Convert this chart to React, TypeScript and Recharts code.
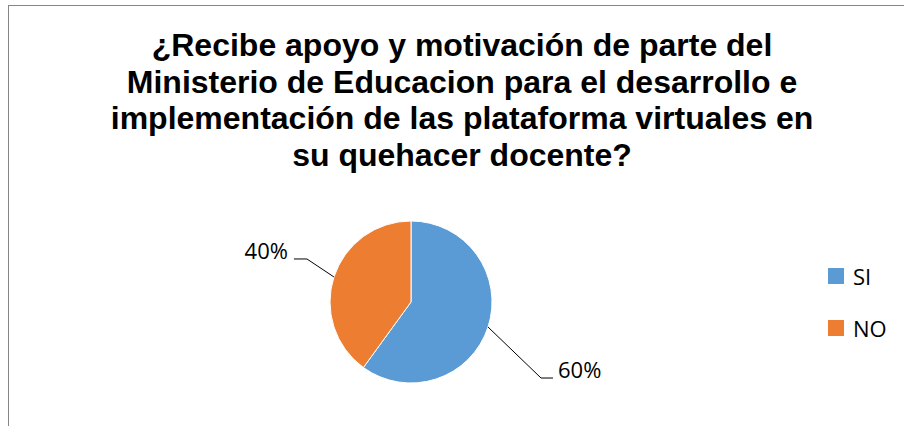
import { PieChart, Pie, Cell, Legend } from 'recharts';

// Answers and their shares
const categories = ['SI', 'NO'];
const shares = [60, 40];
const COLORS = ['#5B9BD5', '#ED7D31'];

const titleLines = [
  '¿Recibe apoyo y motivación de parte del',
  'Ministerio de Educacion para el desarrollo e',
  'implementación de las plataforma virtuales en',
  'su quehacer docente?',
];

const pieData = categories.map((name, i) => ({ name, value: shares[i] }));

const RADIAN = Math.PI / 180;
const LABEL_FONT = '"Open Sans", "Liberation Sans", sans-serif';

// Excel style leader lines: diagonal then a short horizontal tick
const renderLabel = (props: any) => {
  const { cx, cy, midAngle, outerRadius, percent } = props;
  const ex = cx + outerRadius * Math.cos(-midAngle * RADIAN);
  const ey = cy + outerRadius * Math.sin(-midAngle * RADIAN);
  const right = Math.cos(-midAngle * RADIAN) >= 0;
  const bx = right ? ex + 53 : ex - 27;
  const by = right ? ey + 51 : ey - 18;
  const tx = right ? bx + 12 : bx - 13;
  return (
    <g>
      <polyline
        points={`${ex},${ey} ${bx},${by} ${tx},${by}`}
        fill="none"
        stroke="#000"
        strokeWidth={1}
      />
      <text
        x={right ? tx + 5 : tx - 6}
        y={by}
        textAnchor={right ? 'start' : 'end'}
        fontSize={22}
        fontFamily={LABEL_FONT}
        fill="#000"
      >
        {`${Math.round(percent * 100)}%`}
      </text>
    </g>
  );
};

const renderLegend = (props: any) => {
  // keep the legend in the same order as the categories
  const payload = [...(props.payload || [])].sort(
    (a: any, b: any) => categories.indexOf(a.value) - categories.indexOf(b.value)
  );
  return (
    <div>
      {payload.map((entry: any) => (
        <div
          key={entry.value}
          style={{ display: 'flex', alignItems: 'center', height: 52 }}
        >
          <div style={{ width: 16, height: 16, background: entry.color, marginRight: 9 }} />
          <span style={{ fontFamily: LABEL_FONT, fontSize: 22, color: '#000' }}>
            {entry.value}
          </span>
        </div>
      ))}
    </div>
  );
};

export default function App() {
  return (
    <div
      style={{
        position: 'absolute',
        left: 0,
        top: 0,
        width: 904,
        height: 426,
        overflow: 'hidden',
        background: '#fff',
      }}
    >
      <div
        style={{
          position: 'absolute',
          left: 8,
          top: 5,
          width: 1000,
          height: 1000,
          borderLeft: '1px solid #868686',
          borderTop: '1px solid #868686',
        }}
      />
      <div
        style={{
          position: 'absolute',
          left: 8,
          top: 27,
          width: 908,
          textAlign: 'center',
          fontFamily: '"Liberation Sans", Arial, sans-serif',
          fontWeight: 'bold',
          fontSize: 32,
          lineHeight: '36.7px',
          color: '#000',
          whiteSpace: 'nowrap',
        }}
      >
        {titleLines.map((t) => (
          <div key={t}>{t}</div>
        ))}
      </div>
      <div style={{ position: 'absolute', left: 0, top: 0 }}>
        <PieChart width={904} height={426} margin={{ top: 0, right: 0, bottom: 0, left: 0 }}>
          <Pie
            data={pieData}
            dataKey="value"
            nameKey="name"
            cx={411}
            cy={302}
            outerRadius={81}
            startAngle={90}
            endAngle={-270}
            stroke="#fff"
            strokeWidth={1}
            labelLine={false}
            label={renderLabel}
            isAnimationActive={false}
          >
            {pieData.map((entry, index) => (
              <Cell key={entry.name} fill={COLORS[index]} />
            ))}
          </Pie>
          <Legend
            content={renderLegend}
            wrapperStyle={{ position: 'absolute', left: 828, top: 250, width: 80 }}
          />
        </PieChart>
      </div>
    </div>
  );
}
